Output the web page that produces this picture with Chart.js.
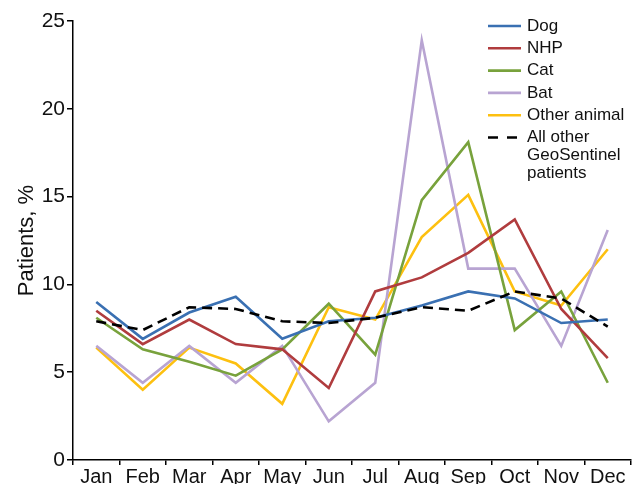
<!DOCTYPE html>
<html>
<head>
<meta charset="utf-8">
<script src="https://cdn.jsdelivr.net/npm/chart.js@4"></script>
<style>
  html, body { margin: 0; padding: 0; background: #fff; }
  #wrap { width: 638px; height: 484px; position: relative; }
</style>
</head>
<body>
<div id="wrap"><canvas id="c" width="638" height="484"></canvas></div>
<script>
const months = ["Jan","Feb","Mar","Apr","May","Jun","Jul","Aug","Sep","Oct","Nov","Dec"];
const dog   = [9.0, 6.9, 8.4, 9.3, 6.9, 7.9, 8.1, 8.8, 9.6, 9.2, 7.8, 8.0];
const nhp   = [8.5, 6.6, 8.0, 6.6, 6.3, 4.1, 9.6, 10.4, 11.8, 13.7, 8.6, 5.8];
const cat   = [8.1, 6.3, 5.6, 4.8, 6.3, 8.9, 6.0, 14.8, 18.1, 7.4, 9.6, 4.4];
const bat   = [6.5, 4.4, 6.5, 4.4, 6.5, 2.2, 4.4, 23.9, 10.9, 10.9, 6.5, 13.1];
const other = [6.4, 4.0, 6.4, 5.5, 3.2, 8.7, 8.0, 12.7, 15.1, 9.6, 8.8, 12.0];
const allOther = [7.9, 7.4, 8.7, 8.6, 7.9, 7.8, 8.1, 8.7, 8.5, 9.6, 9.2, 7.6];
const yTicks = [0, 5, 10, 15, 20, 25];

const seriesNames = ["Dog", "NHP", "Cat", "Bat", "Other animal", ["All other", "GeoSentinel", "patients"]];
const seriesColors = ["#3a70b2", "#b03c3e", "#78a23c", "#b8a4d2", "#fdc010", "#000000"];
const seriesData = [dog, nhp, cat, bat, other, allOther];

const FONT = "'Liberation Sans', Arial, sans-serif";

const datasets = seriesData.map((d, i) => ({
  label: Array.isArray(seriesNames[i]) ? seriesNames[i].join(" ") : seriesNames[i],
  data: d,
  borderColor: seriesColors[i],
  backgroundColor: seriesColors[i],
  borderWidth: 2.6,
  borderDash: i === 5 ? [10, 6] : [],
  pointRadius: 0,
  tension: 0,
  fill: false,
  order: i === 5 ? 0 : i + 1
}));

const legendPlugin = {
  id: 'customLegend',
  afterDraw(chart) {
    const ctx = chart.ctx;
    ctx.save();
    ctx.font = "17px " + FONT;
    ctx.textBaseline = 'middle';
    ctx.fillStyle = '#111';
    const x0 = 488, x1 = 521, tx = 527;
    let y = 26;
    seriesNames.forEach((name, i) => {
      ctx.strokeStyle = seriesColors[i];
      ctx.lineWidth = 2.6;
      ctx.setLineDash(i === 5 ? [10, 9] : []);
      ctx.beginPath();
      ctx.moveTo(x0, y);
      ctx.lineTo(x1, y);
      ctx.stroke();
      ctx.setLineDash([]);
      const lines = Array.isArray(name) ? name : [name];
      lines.forEach((ln, j) => {
        ctx.fillText(ln, tx, y + j * 18);
      });
      y += 22.3;
    });
    ctx.restore();
  }
};

new Chart(document.getElementById('c'), {
  type: 'line',
  data: { labels: months, datasets },
  options: {
    responsive: false,
    animation: false,
    layout: { padding: { top: 21, right: 7, left: 0, bottom: 0 } },
    plugins: { legend: { display: false }, tooltip: { enabled: false } },
    scales: {
      x: {
        offset: true,
        grid: { display: true, drawOnChartArea: false, drawTicks: true, tickLength: 5, color: '#000', lineWidth: 1.5, offset: true },
        border: { display: true, color: '#000', width: 1.5 },
        ticks: { color: '#111', font: { family: FONT, size: 20 }, padding: 0, maxRotation: 0, autoSkip: false },
        afterFit(s) { s.height = 24; }
      },
      y: {
        min: 0, max: 25,
        afterBuildTicks(s) { s.ticks = yTicks.map(v => ({ value: v })); },
        grid: { display: true, drawOnChartArea: false, drawTicks: true, tickLength: 6, color: '#000', lineWidth: 1.5 },
        border: { display: true, color: '#000', width: 1.5 },
        ticks: { color: '#111', font: { family: FONT, size: 21 }, padding: 2 },
        title: { display: true, text: 'Patients, %', color: '#111', font: { family: FONT, size: 22 }, padding: { top: 14, bottom: 0 } },
        afterFit(s) { s.width = 73; }
      }
    }
  },
  plugins: [legendPlugin]
});
</script>
</body>
</html>
